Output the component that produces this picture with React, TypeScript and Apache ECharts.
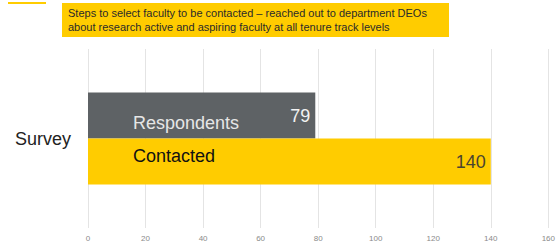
import React, { useEffect, useRef } from "react";
import * as echarts from "echarts";

const categories = ["Survey"];
const seriesNames = ["Respondents", "Contacted"];
const respondentsValues = [79];
const contactedValues = [140];
const xTicks = [0, 20, 40, 60, 80, 100, 120, 140, 160];
const headerLines = [
  "Steps to select faculty to be contacted – reached out to department DEOs",
  "about research active and aspiring faculty at all tenure track levels",
];

const FONT = "'Liberation Sans', Arial, sans-serif";

export default function App() {
  const ref = useRef<HTMLDivElement>(null);
  useEffect(() => {
    if (!ref.current) return;
    const chart = echarts.init(ref.current, undefined, { renderer: "svg" });
    chart.setOption({
      animation: false,
      textStyle: { fontFamily: FONT },
      grid: { left: 88, right: 4, top: 49, bottom: 16, containLabel: false },
      xAxis: {
        type: "value",
        min: xTicks[0],
        max: xTicks[xTicks.length - 1],
        interval: 20,
        axisLine: { show: false },
        axisTick: { show: false },
        axisLabel: { fontSize: 8, color: "#8a8a8a", margin: 6, fontFamily: FONT },
        splitLine: { lineStyle: { color: "#e4e4e4", width: 1 } },
      },
      yAxis: {
        type: "category",
        data: categories,
        axisLine: { show: false },
        axisTick: { show: false },
        axisLabel: { fontSize: 18, color: "#222", margin: 17, fontFamily: FONT },
      },
      graphic: [
        { type: "rect", left: 8, top: 2, shape: { width: 38, height: 2 }, style: { fill: "#ffcc00" } },
        { type: "rect", left: 62, top: 3, shape: { width: 387, height: 34 }, style: { fill: "#ffcc00" } },
        {
          type: "text",
          left: 68,
          top: 6,
          style: {
            text: headerLines.join("\n"),
            font: `11px ${FONT}`,
            fill: "#2a2a2a",
            lineHeight: 14,
          },
        },
      ],
      series: [
        {
          name: seriesNames[0],
          type: "bar",
          data: respondentsValues,
          barWidth: 46,
          barGap: "0%",
          itemStyle: { color: "#5e6265" },
          label: {
            show: true,
            position: "insideRight",
            distance: 5,
            fontSize: 18,
            color: "#f2f2f2",
            fontFamily: FONT,
          },
          markPoint: {
            symbol: "circle",
            symbolSize: 0,
            data: [
              {
                coord: [0, categories[0]],
                label: {
                  show: true,
                  formatter: seriesNames[0],
                  position: "right",
                  distance: 45,
                  offset: [0, 7],
                  fontSize: 18,
                  color: "#e6e6e6",
                  fontFamily: FONT,
                },
              },
            ],
          },
        },
        {
          name: seriesNames[1],
          type: "bar",
          data: contactedValues,
          barWidth: 46,
          barGap: "0%",
          itemStyle: { color: "#ffcc00" },
          label: {
            show: true,
            position: "insideRight",
            distance: 5,
            fontSize: 18,
            color: "#4a4530",
            fontFamily: FONT,
          },
          markPoint: {
            symbol: "circle",
            symbolSize: 0,
            data: [
              {
                coord: [0, categories[0]],
                label: {
                  show: true,
                  formatter: seriesNames[1],
                  position: "right",
                  distance: 45,
                  offset: [0, -6],
                  fontSize: 18,
                  color: "#111",
                  fontFamily: FONT,
                },
              },
            ],
          },
        },
      ],
    });
    return () => chart.dispose();
  }, []);
  return (
    <div
      ref={ref}
      style={{ position: "absolute", left: 0, top: 0, width: 558, height: 244 }}
    />
  );
}
